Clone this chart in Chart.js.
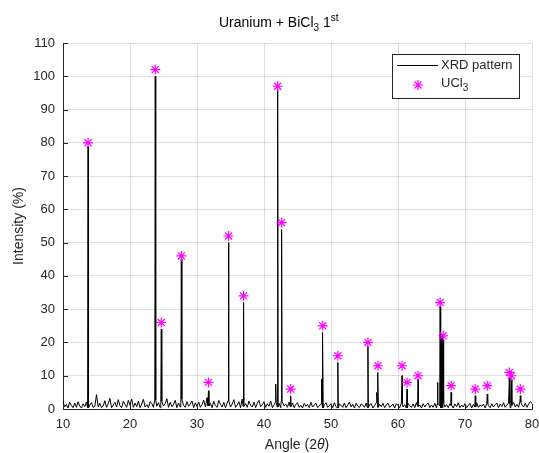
<!DOCTYPE html>
<html>
<head>
<meta charset="utf-8">
<script src="https://cdn.jsdelivr.net/npm/chart.js@4.4.1/dist/chart.umd.min.js"></script>
<style>
  html, body { margin: 0; padding: 0; background: #fff; }
  #wrap { width: 539px; height: 453px; }
</style>
</head>
<body>
<div id="wrap"><canvas id="chart"></canvas></div>
<script>
// baseline noise, read every 0.25 deg from 10 to 80
const baseStart = 10;
const baseStep = 0.25;
const baseValues = [
  2.3,0.6,1.4,0.3,2.0,1.1,0.4,1.8,0.5,2.2,0.9,0.3,1.6,0.7,2.1,0.4,1.2,1.9,0.5,0.8,
  4.3,0.6,1.7,0.4,0.9,2.5,0.5,1.6,3.2,0.4,1.2,2.0,0.6,2.8,1.0,0.4,2.3,1.4,0.5,2.6,
  1.1,3.0,0.5,1.8,0.7,2.4,0.4,1.5,2.9,0.6,1.3,0.4,2.2,1.7,0.5,2.7,0.8,1.9,0.4,2.3,
  0.9,1.6,3.1,0.5,2.0,0.7,1.4,2.6,0.4,1.8,0.6,2.9,1.1,0.5,2.2,0.8,1.5,2.4,0.4,1.9,
  0.7,2.1,0.5,1.3,2.7,0.6,3.4,0.9,1.7,0.4,2.3,1.0,0.5,2.6,1.4,0.6,2.0,0.4,1.8,2.5,
  0.6,1.5,2.8,0.5,1.2,2.2,0.4,3.0,0.8,1.6,0.5,2.4,1.1,0.6,2.1,0.4,1.7,2.6,0.7,1.3,
  2.2,0.5,1.6,0.8,2.4,0.4,1.3,2.0,0.6,1.7,0.4,2.3,0.9,1.5,0.5,2.1,0.7,1.8,0.4,1.4,
  1.9,0.5,1.1,0.3,1.7,0.8,1.4,0.4,2.0,0.6,1.2,1.8,0.4,0.9,1.6,0.3,1.3,1.9,0.5,1.0,
  1.6,0.4,1.9,0.7,0.3,1.5,1.1,0.5,1.8,0.4,1.2,2.1,0.6,1.4,0.3,1.7,0.9,0.4,1.5,1.2,
  0.5,1.8,0.4,1.3,1.6,0.3,1.0,1.9,0.5,1.4,0.7,1.7,0.4,1.2,1.8,0.5,0.9,1.5,0.3,1.6,
  1.1,0.4,1.8,0.6,1.3,0.3,1.7,1.0,0.5,1.5,0.4,1.9,0.8,1.2,0.3,1.6,0.6,1.4,1.8,0.4,
  1.2,0.5,1.7,0.3,1.4,1.0,0.4,1.8,0.6,1.3,0.4,1.6,1.1,0.3,1.5,0.7,1.9,0.4,1.2,0.6,
  1.6,0.4,1.1,1.7,0.3,1.4,0.6,1.9,0.5,1.2,0.8,1.5,0.3,1.7,1.0,0.4,1.6,0.6,1.3,1.8,
  0.4,1.5,0.7,1.9,0.5,1.3,1.7,0.4,1.1,2.0,0.6,1.4,0.5,2.1,1.2,0.6,1.8,0.5,1.5,2.2,
  1.7
];

// sharp diffraction peaks of the measured pattern
const peakAngles  = [13.74, 23.77, 24.67, 27.66, 31.71, 34.70, 36.95, 41.75, 42.04, 42.63,
                     43.98, 48.60, 48.77, 51.02, 55.51, 56.86, 57.01, 60.60, 61.35, 62.99,
                     65.90, 66.29, 66.45, 66.60, 66.74, 67.93, 71.53, 73.32, 76.62, 76.92, 78.26];
const peakHeights = [79, 100, 24, 45, 5.5, 50, 32, 7.5, 96, 54,
                     4, 9, 23, 14, 19, 5, 11, 10, 6, 9,
                     8, 31, 22, 22, 21, 5, 4, 4.5, 9.5, 9, 4];

// UCl3 reference markers
const ucl3Angles = [13.74, 23.77, 24.67, 27.66, 31.71, 34.70, 36.95, 42.04, 42.63, 43.98,
                    48.77, 51.02, 55.51, 57.01, 60.60, 61.35, 62.99, 66.29, 66.74, 67.93,
                    71.53, 73.32, 76.62, 76.92, 78.26];
const ucl3Values = [80, 102, 26, 46, 8, 52, 34, 97, 56, 6,
                    25, 16, 20, 13, 13, 8, 10, 32, 22, 7,
                    6, 7, 11, 10, 6];

const xTicks = [10, 20, 30, 40, 50, 60, 70, 80];
const yTicks = [0, 10, 20, 30, 40, 50, 60, 70, 80, 90, 100, 110];

const FONT = "'Liberation Sans', Arial, Helvetica, sans-serif";
const INK = "#262626";

// merge baseline with peaks
const halfWidth = 0.07;
let linePoints = baseValues
  .map((v, i) => ({ x: baseStart + i * baseStep, y: v }))
  .filter(p => !peakAngles.some(a => Math.abs(p.x - a) <= halfWidth));
peakAngles.forEach((a, i) => {
  const b = baseValues[Math.round((a - baseStart) / baseStep)];
  linePoints.push({ x: a - halfWidth, y: b }, { x: a, y: peakHeights[i] }, { x: a + halfWidth, y: b });
});
linePoints.sort((p, q) => p.x - q.x);

const markerPoints = ucl3Angles.map((a, i) => ({ x: a, y: ucl3Values[i] }));

function richText(ctx, parts, x, y, align) {
  let w = 0;
  parts.forEach(p => {
    ctx.font = (p.italic ? "italic " : "") + p.size + "px " + FONT;
    w += ctx.measureText(p.t).width;
  });
  let cx = align === "center" ? x - w / 2 : x;
  parts.forEach(p => {
    ctx.font = (p.italic ? "italic " : "") + p.size + "px " + FONT;
    ctx.fillText(p.t, cx, y + (p.dy || 0));
    cx += ctx.measureText(p.t).width;
  });
}

const decorPlugin = {
  id: "decor",
  afterDatasetsDraw(chart) {
    const { ctx, chartArea, scales } = chart;
    ctx.save();
    ctx.strokeStyle = INK;
    ctx.lineWidth = 1;
    ctx.beginPath();
    xTicks.forEach(v => {
      const px = Math.round(scales.x.getPixelForValue(v)) + 0.5;
      ctx.moveTo(px, chartArea.bottom);
      ctx.lineTo(px, chartArea.bottom - 5);
    });
    yTicks.forEach(v => {
      const py = Math.round(scales.y.getPixelForValue(v)) + 0.5;
      ctx.moveTo(chartArea.left, py);
      ctx.lineTo(chartArea.left + 5, py);
    });
    ctx.stroke();
    ctx.restore();
  },
  afterDraw(chart) {
    const { ctx } = chart;
    ctx.save();
    ctx.fillStyle = "#000";
    ctx.textBaseline = "alphabetic";
    // title
    richText(ctx, [
      { t: "Uranium + BiCl", size: 14 },
      { t: "3", size: 10, dy: 4 },
      { t: " 1", size: 14 },
      { t: "st", size: 10, dy: -6 }
    ], 219, 27, "left");
    // axis labels
    ctx.fillStyle = INK;
    richText(ctx, [
      { t: "Angle (2", size: 14 },
      { t: "\u03b8", size: 14, italic: true },
      { t: ")", size: 14 }
    ], 297, 449, "center");
    ctx.save();
    ctx.translate(23, 226);
    ctx.rotate(-Math.PI / 2);
    richText(ctx, [{ t: "Intensity (%)", size: 14 }], 0, 0, "center");
    ctx.restore();

    // legend
    ctx.fillStyle = "#fff";
    ctx.fillRect(392.5, 54.5, 127, 44);
    ctx.strokeStyle = INK;
    ctx.lineWidth = 1;
    ctx.strokeRect(392.5, 54.5, 127, 44);
    ctx.strokeStyle = "#000";
    ctx.beginPath();
    ctx.moveTo(397, 65.5);
    ctx.lineTo(438, 65.5);
    ctx.stroke();
    ctx.strokeStyle = "#ff00ff";
    ctx.fillStyle = "#ff00ff";
    ctx.lineWidth = 1.2;
    Chart.helpers.drawPoint(ctx, { pointStyle: "star", radius: 5, borderWidth: 1.2 }, 418, 85);
    ctx.fillStyle = INK;
    ctx.textBaseline = "middle";
    richText(ctx, [{ t: "XRD pattern", size: 13 }], 441, 65, "left");
    richText(ctx, [{ t: "UCl", size: 13 }, { t: "3", size: 10, dy: 5 }], 441, 83, "left");
    ctx.restore();
  }
};

new Chart(document.getElementById("chart"), {
  type: "line",
  data: {
    datasets: [
      {
        label: "UCl3",
        data: markerPoints,
        showLine: false,
        pointStyle: "star",
        pointRadius: 5,
        pointBorderColor: "#ff00ff",
        pointBackgroundColor: "#ff00ff",
        pointBorderWidth: 1.2,
        order: 0
      },
      {
        label: "XRD pattern",
        data: linePoints,
        borderColor: "#000",
        borderWidth: 1,
        pointRadius: 0,
        tension: 0,
        fill: false,
        order: 1
      }
    ]
  },
  options: {
    responsive: true,
    maintainAspectRatio: false,
    animation: false,
    devicePixelRatio: 1,
    layout: { padding: { top: 43, right: 7, left: 0, bottom: 0 } },
    plugins: { legend: { display: false }, tooltip: { enabled: false }, title: { display: false } },
    scales: {
      x: {
        type: "linear",
        min: 10,
        max: 80,
        afterBuildTicks: s => { s.ticks = xTicks.map(v => ({ value: v })); },
        afterFit: s => { s.height = 44; s.paddingLeft = 0; s.paddingRight = 0; },
        grid: { color: "rgba(38,38,38,0.15)", drawTicks: false },
        border: { color: INK, width: 1 },
        ticks: { color: INK, padding: 8, font: { family: FONT, size: 13 } }
      },
      y: {
        type: "linear",
        min: 0,
        max: 110,
        afterBuildTicks: s => { s.ticks = yTicks.map(v => ({ value: v })); },
        afterFit: s => { s.width = 63; s.paddingTop = 0; s.paddingBottom = 0; },
        grid: { color: "rgba(38,38,38,0.15)", drawTicks: false },
        border: { color: INK, width: 1 },
        ticks: { color: INK, padding: 8, font: { family: FONT, size: 13 } }
      }
    }
  },
  plugins: [decorPlugin]
});
</script>
</body>
</html>
